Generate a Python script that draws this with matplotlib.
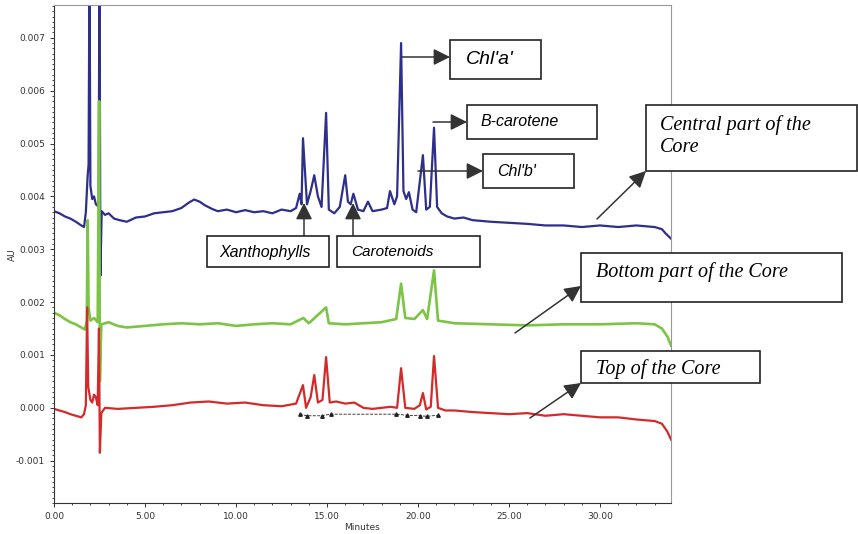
import numpy as np
import matplotlib
matplotlib.use("Agg")
import matplotlib.pyplot as plt
from matplotlib.patches import Rectangle
from matplotlib.ticker import MultipleLocator, FormatStrFormatter

# chromatogram traces (minutes, AU)
central_t = [0.0, 0.3, 0.6, 0.9, 1.2, 1.5, 1.65, 1.75, 1.85, 1.9, 1.95, 2.0, 2.1, 2.2, 2.3,
             2.4, 2.45, 2.5, 2.55, 2.62, 2.8, 3.0, 3.3, 3.6, 4.0, 4.5, 5.0, 5.5, 6.0, 6.5,
             7.0, 7.4, 7.7, 8.0, 8.3, 8.7, 9.0, 9.5, 10.0, 10.5, 11.0, 11.5, 12.0, 12.5,
             13.0, 13.3, 13.5, 13.6, 13.68, 13.9, 14.1, 14.3, 14.5, 14.7, 14.95, 15.1,
             15.4, 15.7, 16.0, 16.15, 16.3, 16.45, 16.7, 17.0, 17.25, 17.5, 18.0, 18.3,
             18.46, 18.7, 18.85, 19.07, 19.2, 19.35, 19.5, 19.7, 19.9, 20.27, 20.45, 20.65,
             20.88, 21.05, 21.3, 21.6, 22.0, 22.5, 23.0, 24.0, 25.0, 26.0, 27.0, 28.0,
             29.0, 30.0, 31.0, 32.0, 33.0, 33.4, 33.6, 33.9]
central_v = [0.00372, 0.00368, 0.00362, 0.00358, 0.00352, 0.00345, 0.00342, 0.00370,
             0.00440, 0.00460, 0.00850, 0.00420, 0.00395, 0.00400, 0.00385, 0.00382,
             0.00390, 0.00850, 0.00250, 0.00372, 0.00365, 0.00368, 0.00358, 0.00355,
             0.00352, 0.00360, 0.00362, 0.00368, 0.00370, 0.00372, 0.00378, 0.00388,
             0.00394, 0.00390, 0.00383, 0.00376, 0.00372, 0.00375, 0.00370, 0.00374,
             0.00370, 0.00372, 0.00368, 0.00375, 0.00372, 0.00378, 0.00405, 0.00385,
             0.00510, 0.00385, 0.00410, 0.00440, 0.00400, 0.00380, 0.00558, 0.00375,
             0.00368, 0.00380, 0.00440, 0.00390, 0.00385, 0.00405, 0.00375, 0.00372,
             0.00390, 0.00372, 0.00375, 0.00378, 0.00410, 0.00385, 0.00400, 0.00690,
             0.00410, 0.00395, 0.00408, 0.00375, 0.00370, 0.00478, 0.00375, 0.00380,
             0.00530, 0.00380, 0.00368, 0.00362, 0.00358, 0.00360, 0.00355, 0.00352,
             0.00350, 0.00348, 0.00345, 0.00345, 0.00342, 0.00345, 0.00342, 0.00345,
             0.00342, 0.00338, 0.00330, 0.00320]

bottom_t = [0.0, 0.3, 0.6, 0.9, 1.2, 1.5, 1.7, 1.8, 1.85, 1.9, 2.0, 2.2, 2.4, 2.48, 2.52,
            2.6, 3.0, 3.5, 4.0, 5.0, 6.0, 7.0, 8.0, 9.0, 10.0, 11.0, 12.0, 13.0, 13.7,
            14.0, 14.95, 15.1, 16.0, 17.0, 18.0, 18.8, 19.07, 19.3, 19.8, 20.27, 20.5,
            20.88, 21.1, 22.0, 24.0, 26.0, 28.0, 30.0, 32.0, 33.0, 33.4, 33.7, 33.9]
bottom_v = [0.00180, 0.00175, 0.00168, 0.00162, 0.00158, 0.00152, 0.00148, 0.00165,
            0.00355, 0.00190, 0.00165, 0.00170, 0.00162, 0.00580, 0.00050, 0.00158,
            0.00162, 0.00155, 0.00152, 0.00155, 0.00158, 0.00160, 0.00158, 0.00160,
            0.00155, 0.00158, 0.00160, 0.00158, 0.00170, 0.00160, 0.00190, 0.00160,
            0.00158, 0.00160, 0.00162, 0.00168, 0.00235, 0.00170, 0.00168, 0.00185,
            0.00168, 0.00260, 0.00165, 0.00160, 0.00158, 0.00156, 0.00158, 0.00158,
            0.00160, 0.00158, 0.00150, 0.00135, 0.00118]

top_t = [0.0, 0.3, 0.6, 0.9, 1.2, 1.5, 1.65, 1.75, 1.82, 1.88, 2.0, 2.1, 2.2, 2.3, 2.4,
         2.47, 2.52, 2.6, 2.8, 3.5, 4.5, 5.5, 6.5, 7.5, 8.5, 9.5, 10.5, 11.5, 12.5, 13.3,
         13.68, 13.85, 14.1, 14.3, 14.5, 14.75, 14.95, 15.15, 15.5, 16.0, 16.5, 17.0,
         17.5, 18.0, 18.5, 18.85, 19.07, 19.3, 19.8, 20.1, 20.27, 20.45, 20.7, 20.88,
         21.1, 21.5, 22.0, 23.0, 24.0, 25.0, 26.0, 27.0, 28.0, 29.0, 30.0, 31.0, 32.0,
         33.0, 33.4, 33.7, 33.9]
top_v = [-0.00002, -0.00005, -0.00008, -0.00012, -0.00015, -0.00018, -0.00012, 0.00005,
         0.00190, 0.00040, 0.00015, 0.00010, 0.00025, 0.00020, 0.00005, 0.00150,
         -0.00085, -0.00010, 0.00000, -0.00002, 0.00000, 0.00002, 0.00005, 0.00010,
         0.00012, 0.00008, 0.00010, 0.00005, 0.00003, 0.00008, 0.00043, 0.00000,
         0.00020, 0.00062, 0.00010, 0.00015, 0.00096, 0.00010, 0.00012, 0.00008,
         0.00010, 0.00000, -0.00002, 0.00000, 0.00002, 0.00000, 0.00075, 0.00000,
         -0.00002, 0.00005, 0.00028, -0.00003, 0.00002, 0.00098, 0.00000, -0.00005,
         -0.00005, -0.00008, -0.00010, -0.00012, -0.00010, -0.00015, -0.00012, -0.00015,
         -0.00018, -0.00018, -0.00022, -0.00025, -0.00030, -0.00045, -0.00060]

# integration marks under the top-of-core peaks
mark_t = [13.5, 13.9, 14.7, 15.2, 18.8, 19.4, 20.1, 20.5, 21.1]
mark_v = [-0.00012, -0.00015, -0.00015, -0.00012, -0.00012, -0.00014, -0.00015, -0.00016, -0.00014]

W, H = 858, 534
fig = plt.figure(figsize=(W / 100, H / 100), dpi=100)
ax = fig.add_axes([54 / W, 1 - 503 / H, (671 - 54) / W, (503 - 5) / H])

ax.plot(central_t, central_v, color="#2e2f8c", lw=1.6)
ax.plot(bottom_t, bottom_v, color="#7cc444", lw=1.9)
ax.plot(top_t, top_v, color="#d42a2a", lw=1.6)
ax.plot(mark_t, mark_v, color="#222222", lw=0.6, ls="--", marker="^", ms=2.5)

ax.set_xlim(0, 33.9)
ax.set_ylim(-0.0018, 0.00762)
ax.xaxis.set_major_locator(MultipleLocator(5))
ax.xaxis.set_minor_locator(MultipleLocator(1))
ax.yaxis.set_major_locator(MultipleLocator(0.001))
ax.yaxis.set_minor_locator(MultipleLocator(0.0001))
ax.xaxis.set_major_formatter(FormatStrFormatter("%.2f"))
ax.yaxis.set_major_formatter(FormatStrFormatter("%.3f"))
ax.tick_params(labelsize=6.5, colors="#333333", length=3, width=0.7)
ax.tick_params(which="minor", length=1.5, width=0.5)
for s in ["top", "right"]:
    ax.spines[s].set_color("#999999")
    ax.spines[s].set_linewidth(0.8)
for s in ["left", "bottom"]:
    ax.spines[s].set_color("#333333")
    ax.spines[s].set_linewidth(0.8)
fig.text(12 / W, 1 - 255 / H, "AU", rotation=90, fontsize=6.5, color="#333333",
         ha="center", va="center")
fig.text(362 / W, 1 - 527 / H, "Minutes", fontsize=6.5, color="#333333",
         ha="center", va="center")


def fp(x, y):
    return (x / W, 1 - y / H)


def box(x0, y0, x1, y1, text, tx, ty, size, family, ls=1.0):
    fig.add_artist(Rectangle(fp(x0, y1), (x1 - x0) / W, (y1 - y0) / H,
                             transform=fig.transFigure, facecolor="white",
                             edgecolor="#222222", lw=1.2, zorder=5))
    fig.text(tx / W, 1 - ty / H, text, fontsize=size, family=family, style="italic",
             ha="left", va="center", zorder=6, linespacing=ls)


def arrow(x0, y0, x1, y1):
    ax.annotate("", xy=fp(x1, y1), xycoords="figure fraction",
                xytext=fp(x0, y0), textcoords="figure fraction",
                arrowprops=dict(arrowstyle="-|>,head_length=1.0,head_width=0.5",
                                color="#333333", lw=1.1, shrinkA=0, shrinkB=0),
                zorder=6, annotation_clip=False)


sans = "Liberation Sans"
serif = "Liberation Serif"
box(450, 40, 541, 79, "Chl'a'", 466, 60, 14, sans)
box(467, 105, 597, 139, "B-carotene", 480, 122, 11.5, sans)
box(483, 154, 574, 188, "Chl'b'", 497, 172, 11.5, sans)
box(207, 236, 329, 267, "Xanthophylls", 219, 252, 11.5, sans)
box(337, 236, 480, 267, "Carotenoids", 351, 252, 11, sans)
box(646, 105, 857, 171, "Central part of the\nCore", 660, 136, 14.5, serif, 1.15)
box(581, 253, 842, 302, "Bottom part of the Core", 596, 272, 14.5, serif)
box(581, 351, 760, 383, "Top of the Core", 596, 369, 14.5, serif)

arrow(402, 57, 450, 57)
arrow(433, 122, 467, 122)
arrow(418, 171, 483, 171)
arrow(304, 236, 304, 203)
arrow(353, 236, 353, 203)
arrow(597, 219, 646, 171)
arrow(515, 333, 581, 286)
arrow(530, 418, 581, 383)

fig.savefig("out.png", dpi=100)
